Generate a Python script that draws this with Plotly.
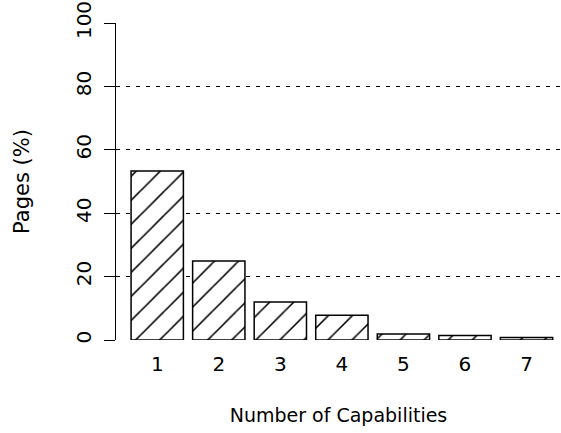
import plotly.graph_objects as go

# Share of pages by number of capabilities used
capabilities = [1, 2, 3, 4, 5, 6, 7]
pages_pct = [53.3, 24.9, 12.0, 7.8, 1.9, 1.4, 0.8]
y_ticks = [0, 20, 40, 60, 80, 100]

FONT = "DejaVu Sans"

fig = go.Figure(
    go.Bar(
        x=capabilities,
        y=pages_pct,
        width=0.85,
        marker=dict(
            color="white",
            line=dict(color="black", width=1.5),
            pattern=dict(shape="/", fgcolor="black", bgcolor="white",
                         fgopacity=1, size=17, solidity=0.09),
        ),
    )
)

fig.update_layout(
    width=561,
    height=433,
    margin=dict(l=116, r=0, t=23, b=93),
    paper_bgcolor="white",
    plot_bgcolor="white",
    showlegend=False,
    font=dict(family=FONT, size=19, color="black"),
    xaxis=dict(
        range=[0.33, 7.56],
        tickmode="array",
        tickvals=capabilities,
        ticktext=[str(c) for c in capabilities],
        showgrid=False,
        zeroline=False,
        showline=False,
        ticks="",
        ticklabelstandoff=10,
        title=dict(text="Number of Capabilities", standoff=33, font=dict(size=19)),
        tickfont=dict(size=20),
    ),
    yaxis=dict(
        range=[0, 100],
        tickmode="array",
        tickvals=y_ticks,
        ticktext=[str(v) for v in y_ticks],
        tickangle=-90,
        showgrid=True,
        gridcolor="black",
        gridwidth=1,
        griddash="4px,6px",
        zeroline=False,
        showline=True,
        linecolor="black",
        linewidth=1,
        ticks="outside",
        ticklen=11,
        tickcolor="black",
        ticklabelstandoff=5,
        title=dict(text="Pages (%)", standoff=36, font=dict(size=21)),
        tickfont=dict(size=20),
    ),
)

fig.write_html("out.html")
